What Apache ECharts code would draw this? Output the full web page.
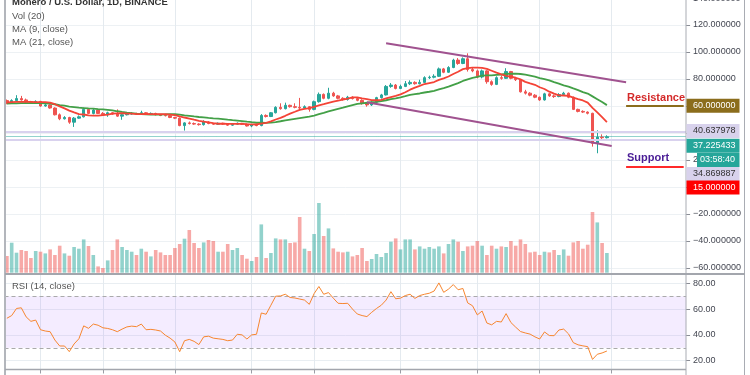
<!DOCTYPE html>
<html>
<head>
<meta charset="utf-8">
<script src="https://cdn.jsdelivr.net/npm/echarts@6/dist/echarts.min.js"></script>
<style>
html, body { margin: 0; padding: 0; background: #fff; }
#chart { width: 750px; height: 375px; }
</style>
</head>
<body>
<div id="chart"></div>
<script>
// daily candles
const opens = [64,62,64,65.5,64.5,63,62.8,63.4,60,60.8,
  58.5,53.5,50.5,51.5,48,51,52,57.5,54.5,57,
  54.5,53.5,55,54,52.5,53.5,54,54.5,54,55,
  54,54.5,53.5,53,52.8,51.5,51,45.5,47.5,47,
  46.6,46.2,48.2,47,46.5,47.2,46.6,45.8,46.5,47.2,
  46.5,45.2,46.3,45.5,53,52.2,55,59,58,60.5,
  59.5,59,58.5,59.5,57.5,63.2,68.6,65.7,69.5,67.5,
  65.7,64.8,66.5,65.5,64.2,61.8,60.8,62.8,66.2,68.2,
  74.5,75.5,73,74.5,76.5,77.5,76.5,77.5,81,81.3,
  82,87.5,85,88.5,94,91.5,95,87,86,81.5,
  86,78,76,81,80.5,85.5,80.5,79.5,70.5,69.5,
  68,66.5,64.5,69,67.5,67,68.5,69.5,66.5,57.5,
  56,55.5,54.6,32.4,37,36.5];
const closes = [62,64,65.5,64.5,63,62.8,63.4,60,60.8,58.5,
  53.5,50.5,51.5,48,51,52,57.5,54.5,57,54.5,
  53.5,55,54,52.5,53.5,54,54.5,54,55,54,
  54.5,53.5,53,52.8,51.5,51,45.5,47.5,47,46.6,
  46.2,48.2,47,46.5,47.2,46.6,45.8,46.5,47.2,46.5,
  45.2,46.3,45.5,53,52.2,55,59,58,60.5,59.5,
  59,58.5,59.5,57.5,63.2,68.6,65.7,69.5,67.5,65.7,
  64.8,66.5,65.5,64.2,61.8,60.8,62.8,66.2,68.2,74.5,
  75.5,73,74.5,76.5,77.5,76.5,77.5,81,81.3,82,
  87.5,85,88.5,94,91.5,95,87,86,81.5,86,
  78,76,81,80.5,85.5,80.5,79.5,70.5,69.5,68,
  66.5,64.5,69,67.5,67,68.5,69.5,66.5,57.5,56,
  55.5,54.6,32.4,37,36.5,37.2];
const lows = [61.3,61.5,63.5,64,62.3,62,62.2,59.5,59.5,58,
  53,49.5,50,46.8,44.5,50.5,51.5,54,53.8,54,
  53,52,53.5,52,49.8,53,53.5,53.5,53.5,53.5,
  53.5,53,52.5,52.3,51,50.3,45,41.8,46.3,46,
  45.5,45.5,46.5,46,46,46,45.3,45.3,46,46,
  44.8,44.3,45,45,51.5,51.8,54.5,57.3,57.5,58.8,
  58.3,57.5,57.8,55.8,56.8,62.5,65,65,66.8,65,
  64,64,64.8,63.5,61,59.5,60,62.3,65.5,67.8,
  73.5,72.3,72.5,74,75.5,75.8,76,77,80,80.5,
  81.5,84.3,84.5,88,90.5,91,85.5,85,80.5,80.5,
  76.5,75,75.5,79.5,80,79.8,78.5,70,68.5,67.2,
  65.8,63.8,64,66.8,66,66.5,67.8,65.8,57,55.3,
  54.8,53.8,29.9,25,35,36];
const highs = [64.8,65,68,67.5,65.5,63.8,64.2,63.8,61.8,61.2,
  59,54.5,52.5,52,51.8,53,58.8,58,58,57.5,
  55.5,55.8,55.5,57.5,54.2,55,55.5,55,56.5,55.5,
  55.2,55,54,53.8,53.3,52,51.5,48,48.5,47.8,
  47.2,49.5,48.8,47.5,47.8,47.6,47,47,47.8,47.5,
  46.8,46.8,46.8,54,53.8,55.5,59.8,62,62.5,61,
  62,66,60.5,60,64,70,69.3,73.5,70.5,68.2,
  66.5,67.5,67.2,66.3,65,62.5,63.5,66.8,69,75.5,
  77,76.3,75.8,78.5,79,78.3,79.5,82,82.5,83.5,
  88.5,88.2,89.5,95,95.5,96,99,88.5,87,87,
  86.5,79,82,82.5,88,86,81.5,80,72,70.2,
  68.8,67,69.8,69.5,68.5,69.5,70.5,70,67,58,
  56.8,56,55,42,39,38.3];
// volume, thousands
const volumes = [16.7,30,20,22.7,21.7,14.7,21.7,21,19.3,23.3,
  17.7,27,19.3,17,25.7,24,33.3,26.7,17.7,6.3,
  4.7,12.3,22.7,33.3,25.7,22.7,21,17.7,24,21,
  16.3,22.7,20.3,17.7,17.7,24.7,28.7,34,42.7,29.7,
  24.7,30.3,32.7,31.7,21,21,28.7,22.7,24.7,17.7,
  14,11.7,15.7,48.3,14.7,19.7,34.3,33.3,33.3,29.7,
  30.3,55.7,24,21.7,38.7,69.7,36.7,44.3,24.3,21,
  20.3,21,16.3,17.7,24.7,11.7,13.7,18.7,15.7,19.7,
  31,34.3,23.3,33.3,33.3,23.3,26.3,24,25.7,24,
  26.3,19.3,28.7,33.3,31,21.7,26.3,27,31.7,27,
  17.7,27,24,26.3,25.7,31.7,27,33.3,28.7,20.3,
  21,17.7,21,20.3,22.7,17.7,23.3,17,30.3,31.7,
  24,28,60.7,50.3,29.7,19.7];
const ma9 = [62.6,62.8,63.0,63.1,63.1,63.0,62.9,62.8,62.89,62.5,
  61.33,59.67,58.22,56.56,55.24,53.98,53.7,53.0,52.83,52.94,
  53.28,53.67,54.33,54.5,54.67,54.28,54.28,53.94,54.0,54.06,
  54.0,53.94,54.0,53.92,53.64,53.26,52.31,51.48,50.7,49.82,
  49.01,48.48,47.83,47.28,46.86,46.98,46.79,46.73,46.8,46.83,
  46.5,46.42,46.31,46.96,47.58,48.6,49.99,51.19,52.74,54.33,
  55.74,57.19,57.91,58.5,59.41,60.48,61.33,62.33,63.22,63.97,
  64.67,65.44,66.33,66.44,65.69,65.14,64.4,64.26,64.53,65.61,
  66.61,67.44,68.59,70.22,72.08,73.6,74.86,76.28,77.03,77.76,
  79.37,80.53,81.87,83.7,85.37,87.31,87.98,88.5,88.44,88.28,
  87.5,86.11,84.67,83.44,82.39,81.67,80.94,79.72,77.89,76.78,
  75.72,73.89,72.61,70.61,69.11,67.89,67.78,67.44,66.28,65.11,
  64.11,62.51,58.61,55.28,51.72,48.13];
const ma21 = [61.8,61.9,62.0,62.1,62.2,62.2,62.2,62.1,62.0,61.8,
  61.3,60.7,60.2,59.6,59.2,58.8,58.5,58.2,58.0,57.7,
  57.52,57.19,56.71,56.1,55.57,55.14,54.75,54.3,54.06,53.74,
  53.55,53.55,53.67,53.73,53.9,53.9,53.59,53.11,52.75,52.26,
  51.86,51.61,51.23,50.87,50.62,50.29,49.9,49.52,49.2,48.79,
  48.37,47.98,47.6,47.6,47.57,47.74,48.12,48.71,49.33,49.93,
  50.52,51.1,51.64,52.14,52.94,53.96,54.87,56.0,57.0,57.88,
  58.75,59.76,60.68,61.57,61.99,62.4,62.77,63.11,63.6,64.26,
  65.02,65.69,66.45,67.26,68.21,68.85,69.27,70.0,70.56,71.25,
  72.29,73.25,74.3,75.66,76.96,78.54,79.79,80.89,81.62,82.47,
  82.63,82.66,83.04,83.32,83.75,83.9,84.04,83.7,83.16,82.52,
  81.79,80.69,79.93,78.93,77.64,76.55,75.33,74.36,73.0,71.79,
  70.33,69.22,67.14,65.05,62.95,60.65];
const rsi = [52.9,55,60.5,61,54,50.5,51.5,44,43,42.5,
  36,31.4,31.4,27,33,37,47,45.1,48.4,47.5,
  45.5,45,44,42.5,44.5,46.2,46.8,46.4,48.4,44,
  44.3,43.8,43,39.8,37.5,34.5,27,35.5,36.5,35,
  32.5,38.5,39,37.5,37,36.5,35.5,36,40.5,40,
  36.8,40,40.5,57,56,63,70,70.2,71.5,69,
  68.6,67.8,67,63.7,72,77.5,71.5,72.8,68.5,64.5,
  64.3,64.5,60,56.2,55,54.2,57.5,60.5,63,67,
  73.5,68,68.5,70.5,71.5,68.3,70.5,71.5,72.3,74,
  80.3,73,75.5,79,75,76,64.8,62.6,55.5,58.5,
  49.2,47.8,50.5,50,56.5,49.6,46,42.6,41.5,40.6,
  38.5,36.8,42.3,39.5,39.4,43.8,44.5,40.8,34,32.3,
  31.5,30.9,21,25,26,27.5];

// drawn levels / trend channel (bar index, price)
const upperTrend = [[79, 106.5], [129, 77.6]];
const lowerTrend = [[75, 62.7], [126, 30.4]];
const resistance = 60;
const support = 15;
const lastPrice = 37.225433;
const bandHigh = 40.637978;
const bandLow = 34.869887;
const gridDays = [7, 20, 35, 51, 64, 82, 98, 111, 126];
const slots = 142;

const days = [];
for (let i = 0; i < slots; i++) days.push(String(i + 1));

const UP = '#26a69a', DOWN = '#ef5350';
const sans = '"Liberation Sans", Arial, sans-serif';
const axisColor = '#a9acb3';

let chart = echarts.init(document.getElementById('chart'));

const candles = opens.map((o, i) => [o, closes[i], lows[i], highs[i]]);
const volData = volumes.map((v, i) => ({
  value: v,
  itemStyle: { color: closes[i] >= opens[i] ? 'rgba(38,166,154,0.5)' : 'rgba(239,83,80,0.5)' }
}));
const isGridDay = (idx) => gridDays.indexOf(idx) >= 0;

function badge(text, cy, bg, color, x) {
  const left = x || 686.5;
  return {
    type: 'group', z: 100,
    children: [
      { type: 'rect', shape: { x: left, y: cy - 7, width: 739.5 - left, height: 14 }, style: { fill: bg }, z: 100 },
      { type: 'text', x: left === 686.5 ? 693 : left + 3, y: cy, z: 101,
        style: { text: text, fill: color, font: '9px ' + sans, verticalAlign: 'middle' } }
    ]
  };
}
function label(text, x, y, font, color) {
  return { type: 'text', x: x, y: y, z: 100, style: { text: text, fill: color, font: font, verticalAlign: 'middle' } };
}
function line(x1, y1, x2, y2, color, w) {
  return { type: 'line', z: 99, shape: { x1: x1, y1: y1, x2: x2, y2: y2 }, style: { stroke: color, lineWidth: w } };
}

const hiddenX = (idx) => ({
  type: 'category', gridIndex: idx, data: days, boundaryGap: true, show: false
});

let option = {
  animation: false,
  backgroundColor: '#fff',
  grid: [
    { left: 6.9, top: 0, width: 4.8 * (slots - 1), height: 369.5, outerBoundsMode: 'none' },
    { left: 4.5, top: -2, width: 681.6, height: 270, outerBoundsMode: 'none' },
    { left: 4.5, top: 182, width: 681.6, height: 90.7, outerBoundsMode: 'none' },
    { left: 4.5, top: 283.3, width: 681.6, height: 77.4, outerBoundsMode: 'none' }
  ],
  xAxis: [
    {
      type: 'category', gridIndex: 0, data: days, boundaryGap: false,
      axisLine: { show: false },
      axisTick: { show: true, interval: (i) => isGridDay(i), length: 4, lineStyle: { color: '#9a9da5' } },
      axisLabel: { show: false },
      splitLine: { show: true, interval: (i) => isGridDay(i), lineStyle: { color: '#e4eaef', width: 1 } }
    },
    hiddenX(1), hiddenX(2), hiddenX(3)
  ],
  yAxis: [
    { type: 'value', gridIndex: 0, show: false, min: 0, max: 1 },
    {
      type: 'value', gridIndex: 1, position: 'right', min: -60, max: 140, interval: 20,
      axisLine: { show: false },
      axisTick: { show: true, length: 4, lineStyle: { color: '#8a8d95' } },
      axisLabel: {
        margin: 7, fontSize: 9, fontFamily: sans, color: '#434651',
        formatter: (v) => (v === 0 || v === 40) ? '' : (v < 0 ? '\u2212' : '') + Math.abs(v).toFixed(6)
      },
      splitLine: { lineStyle: { color: '#edf1f4' } }
    },
    { type: 'value', gridIndex: 2, show: false, min: 0, max: 90.7 },
    {
      type: 'value', gridIndex: 3, position: 'right', min: 20, max: 80, interval: 20,
      axisLine: { show: false },
      axisTick: { show: true, length: 4, lineStyle: { color: '#8a8d95' } },
      axisLabel: { margin: 7, fontSize: 9, fontFamily: sans, color: '#434651', formatter: (v) => v.toFixed(2) },
      splitLine: { lineStyle: { color: '#e9eef2' } }
    }
  ],
  series: [
    {
      type: 'bar', xAxisIndex: 2, yAxisIndex: 2, data: volData, barWidth: 3.6, z: 1
    },
    {
      type: 'candlestick', xAxisIndex: 1, yAxisIndex: 1, data: candles, barWidth: 3, z: 3,
      itemStyle: { color: UP, color0: DOWN, borderColor: UP, borderColor0: DOWN, borderWidth: 1 },
      markLine: {
        silent: true, symbol: ['none', 'none'], label: { show: false }, animation: false,
        data: [
          { yAxis: bandHigh, lineStyle: { color: '#d9d2ee', width: 2, type: 'solid' } },
          { yAxis: bandLow, lineStyle: { color: '#d9d2ee', width: 2, type: 'solid' } },
          { yAxis: lastPrice, lineStyle: { color: UP, width: 1, type: 'dotted' } },
          [{ coord: [129, resistance], lineStyle: { color: '#8b6d1c', width: 2, type: 'solid' } }, { coord: [141, resistance] }],
          [{ coord: [129, support], lineStyle: { color: '#ff2a2a', width: 2, type: 'solid' } }, { coord: [141, support] }]
        ]
      }
    },
    {
      type: 'line', xAxisIndex: 1, yAxisIndex: 1, data: ma21, symbol: 'none', z: 4,
      lineStyle: { color: '#43a047', width: 1.8 }
    },
    {
      type: 'line', xAxisIndex: 1, yAxisIndex: 1, data: ma9, symbol: 'none', z: 5,
      lineStyle: { color: '#f44336', width: 1.8 }
    },
    {
      type: 'line', xAxisIndex: 1, yAxisIndex: 1, data: upperTrend, symbol: 'none', z: 6,
      lineStyle: { color: '#a0528f', width: 2 }
    },
    {
      type: 'line', xAxisIndex: 1, yAxisIndex: 1, data: lowerTrend, symbol: 'none', z: 6,
      lineStyle: { color: '#a0528f', width: 2 }
    },
    {
      type: 'line', xAxisIndex: 3, yAxisIndex: 3, data: rsi, symbol: 'none', clip: false, z: 5,
      lineStyle: { color: '#f7862f', width: 1 },
      markArea: {
        silent: true,
        itemStyle: { color: 'rgba(180,120,255,0.14)' },
        data: [[{ yAxis: 30 }, { yAxis: 70 }]]
      },
      markLine: {
        silent: true, symbol: ['none', 'none'], label: { show: false },
        lineStyle: { color: '#aaaaaa', type: [4, 3], width: 1 },
        data: [{ yAxis: 70 }, { yAxis: 30 }]
      }
    }
  ],
  graphic: [
    line(5, 0, 5, 375, '#b3b6bc', 2),
    line(686, 0, 686, 375, axisColor, 1),
    line(744.5, 0, 744.5, 375, axisColor, 1),
    line(5, 274, 745, 274, '#a3a6ad', 2),
    line(5, 369.5, 686, 369.5, '#a3a6ad', 1.5),
    label('Monero / U.S. Dollar, 1D, BINANCE', 12, 2.5, 'bold 9.5px ' + sans, '#333'),
    label('Vol (20)', 12, 16, '9.5px ' + sans, '#555'),
    label('MA (9, close)', 12, 29, '9.5px ' + sans, '#555'),
    label('MA (21, close)', 12, 42.5, '9.5px ' + sans, '#555'),
    label('RSI (14, close)', 12, 286, '9.5px ' + sans, '#555'),
    label('140.000000', 693, -1.5, '9px ' + sans, '#434651'),
    label('Resistance', 627, 98, 'bold 11px ' + sans, '#d42a2a'),
    label('Support', 627, 157.5, 'bold 11px ' + sans, '#4a1d96'),
    badge('60.000000', 105.7, '#8b6d1c', '#fff'),
    badge('40.637978', 131, '#d8d2ec', '#333'),
    badge('37.225433', 145.8, '#26a69a', '#fff'),
    badge('03:58:40', 160, '#26a69a', '#fff', 697),
    badge('34.869887', 174, '#d8d2ec', '#333'),
    badge('15.000000', 187.5, '#ff0000', '#fff')
  ]
};

chart.setOption(option, true);
</script>
</body>
</html>
